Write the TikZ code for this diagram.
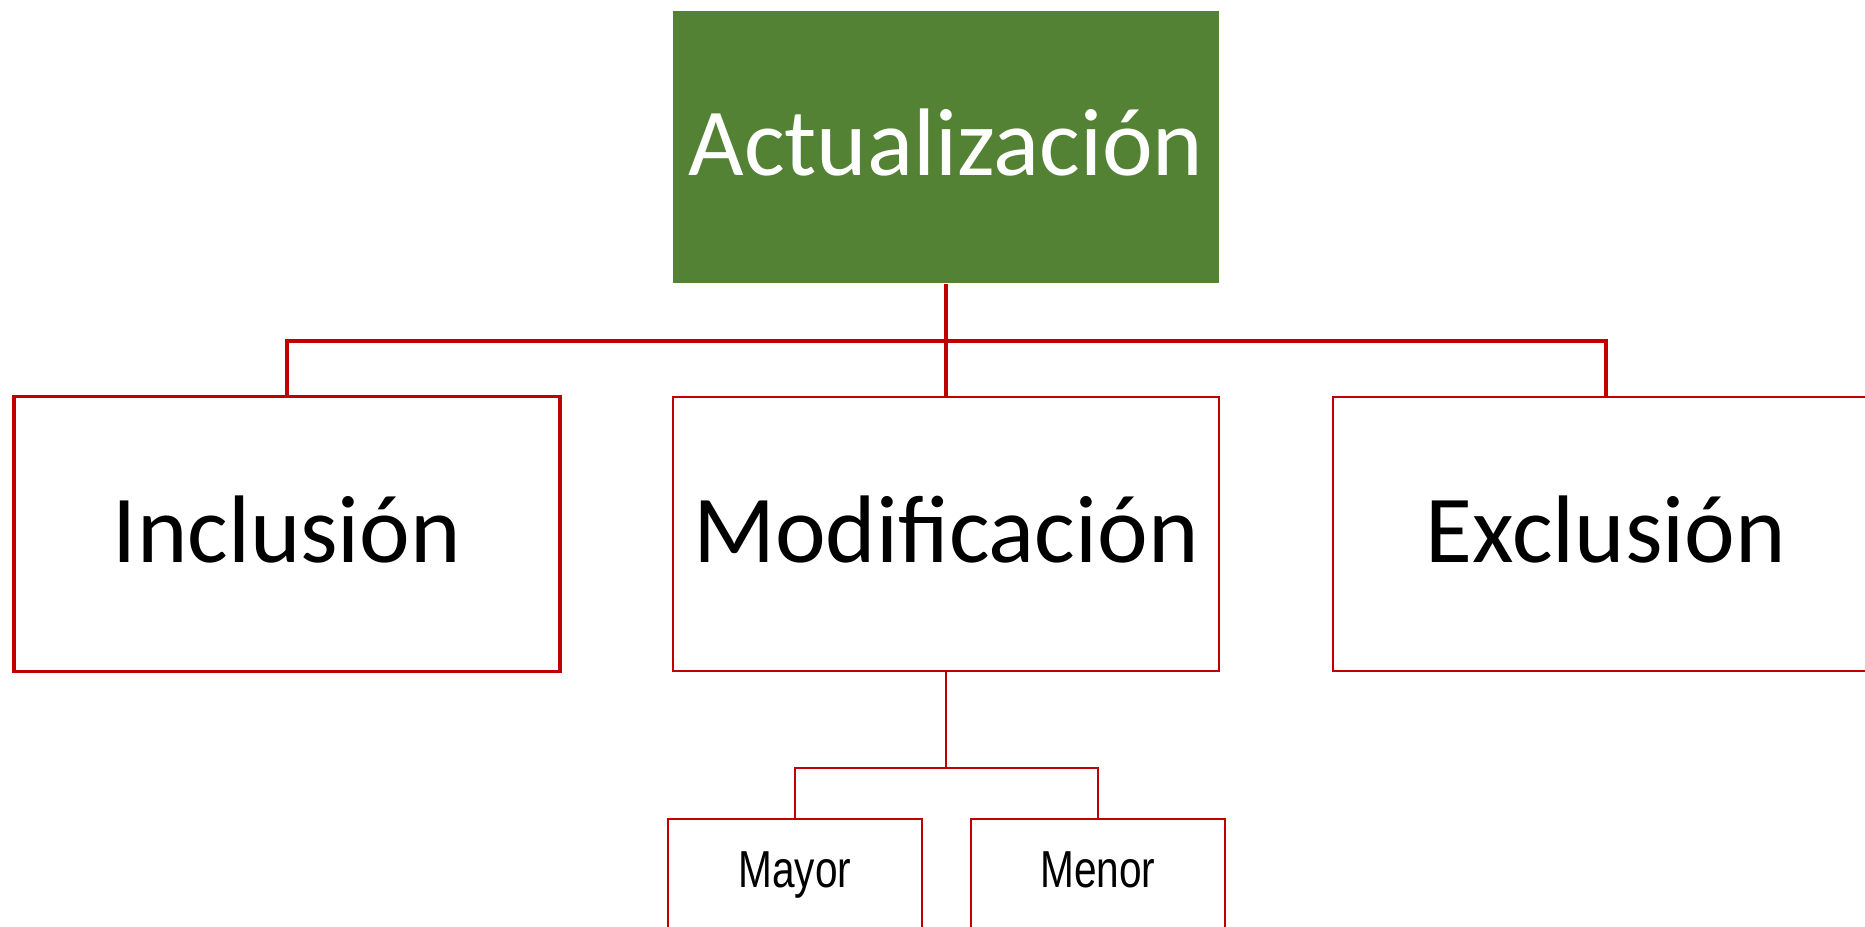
\documentclass[tikz,border=0pt]{standalone}
\usepackage{fontspec}
\setmainfont{Carlito}
\newfontfamily\narrowfont[FakeStretch=0.78]{Liberation Sans}
\definecolor{boxred}{HTML}{C00000}
\definecolor{topgreen}{HTML}{548235}
\begin{document}
\begin{tikzpicture}[x=0.01cm, y=-0.01cm, line width=0.57pt,
  top node/.style={rectangle,fill=topgreen,text=white,minimum width=155pt,minimum height=77.4pt,inner sep=0pt,text height=20pt,text depth=4pt,font=\fontsize{27.3}{30}\selectfont},
  main node/.style={rectangle,draw=boxred,fill=white,minimum width=155.3pt,minimum height=78pt,inner sep=0pt,text height=20pt,text depth=4pt,font=\fontsize{27.3}{30}\selectfont},
  sub node/.style={rectangle,draw=boxred,fill=white,anchor=north,minimum width=72.3pt,inner sep=0pt,text height=19.6pt,text depth=40pt,font=\narrowfont\fontsize{14.8}{17}\selectfont},
  link/.style={draw=boxred,line width=1pt}]
\clip (0,0) rectangle (1865,927);
\useasboundingbox (0,0) rectangle (1865,927);
\begin{scope}
\node[top node] (act) at (946,147) {Actualización};
\node[main node,line width=0.9pt] (incl) at (287,534) {Inclusión};
\node[main node] (modif) at (946,534) {Modificación};
\node[main node] (excl) at (1606,534) {Exclusión};
\node[sub node] (mayor) at (795,818) {Mayor};
\node[sub node] (menor) at (1098,818) {Menor};
\coordinate (bus) at (946,341);
\coordinate (subbus) at (946,768);
\end{scope}
\begin{scope}
\draw[link] (act.south) -- (modif.north);
\draw[link] (incl.north) |- (bus) -| (excl.north);
\draw[boxred] (modif.south) -- (subbus);
\draw[boxred] (mayor.north) |- (subbus) -| (menor.north);
\end{scope}
\end{tikzpicture}
\end{document}
